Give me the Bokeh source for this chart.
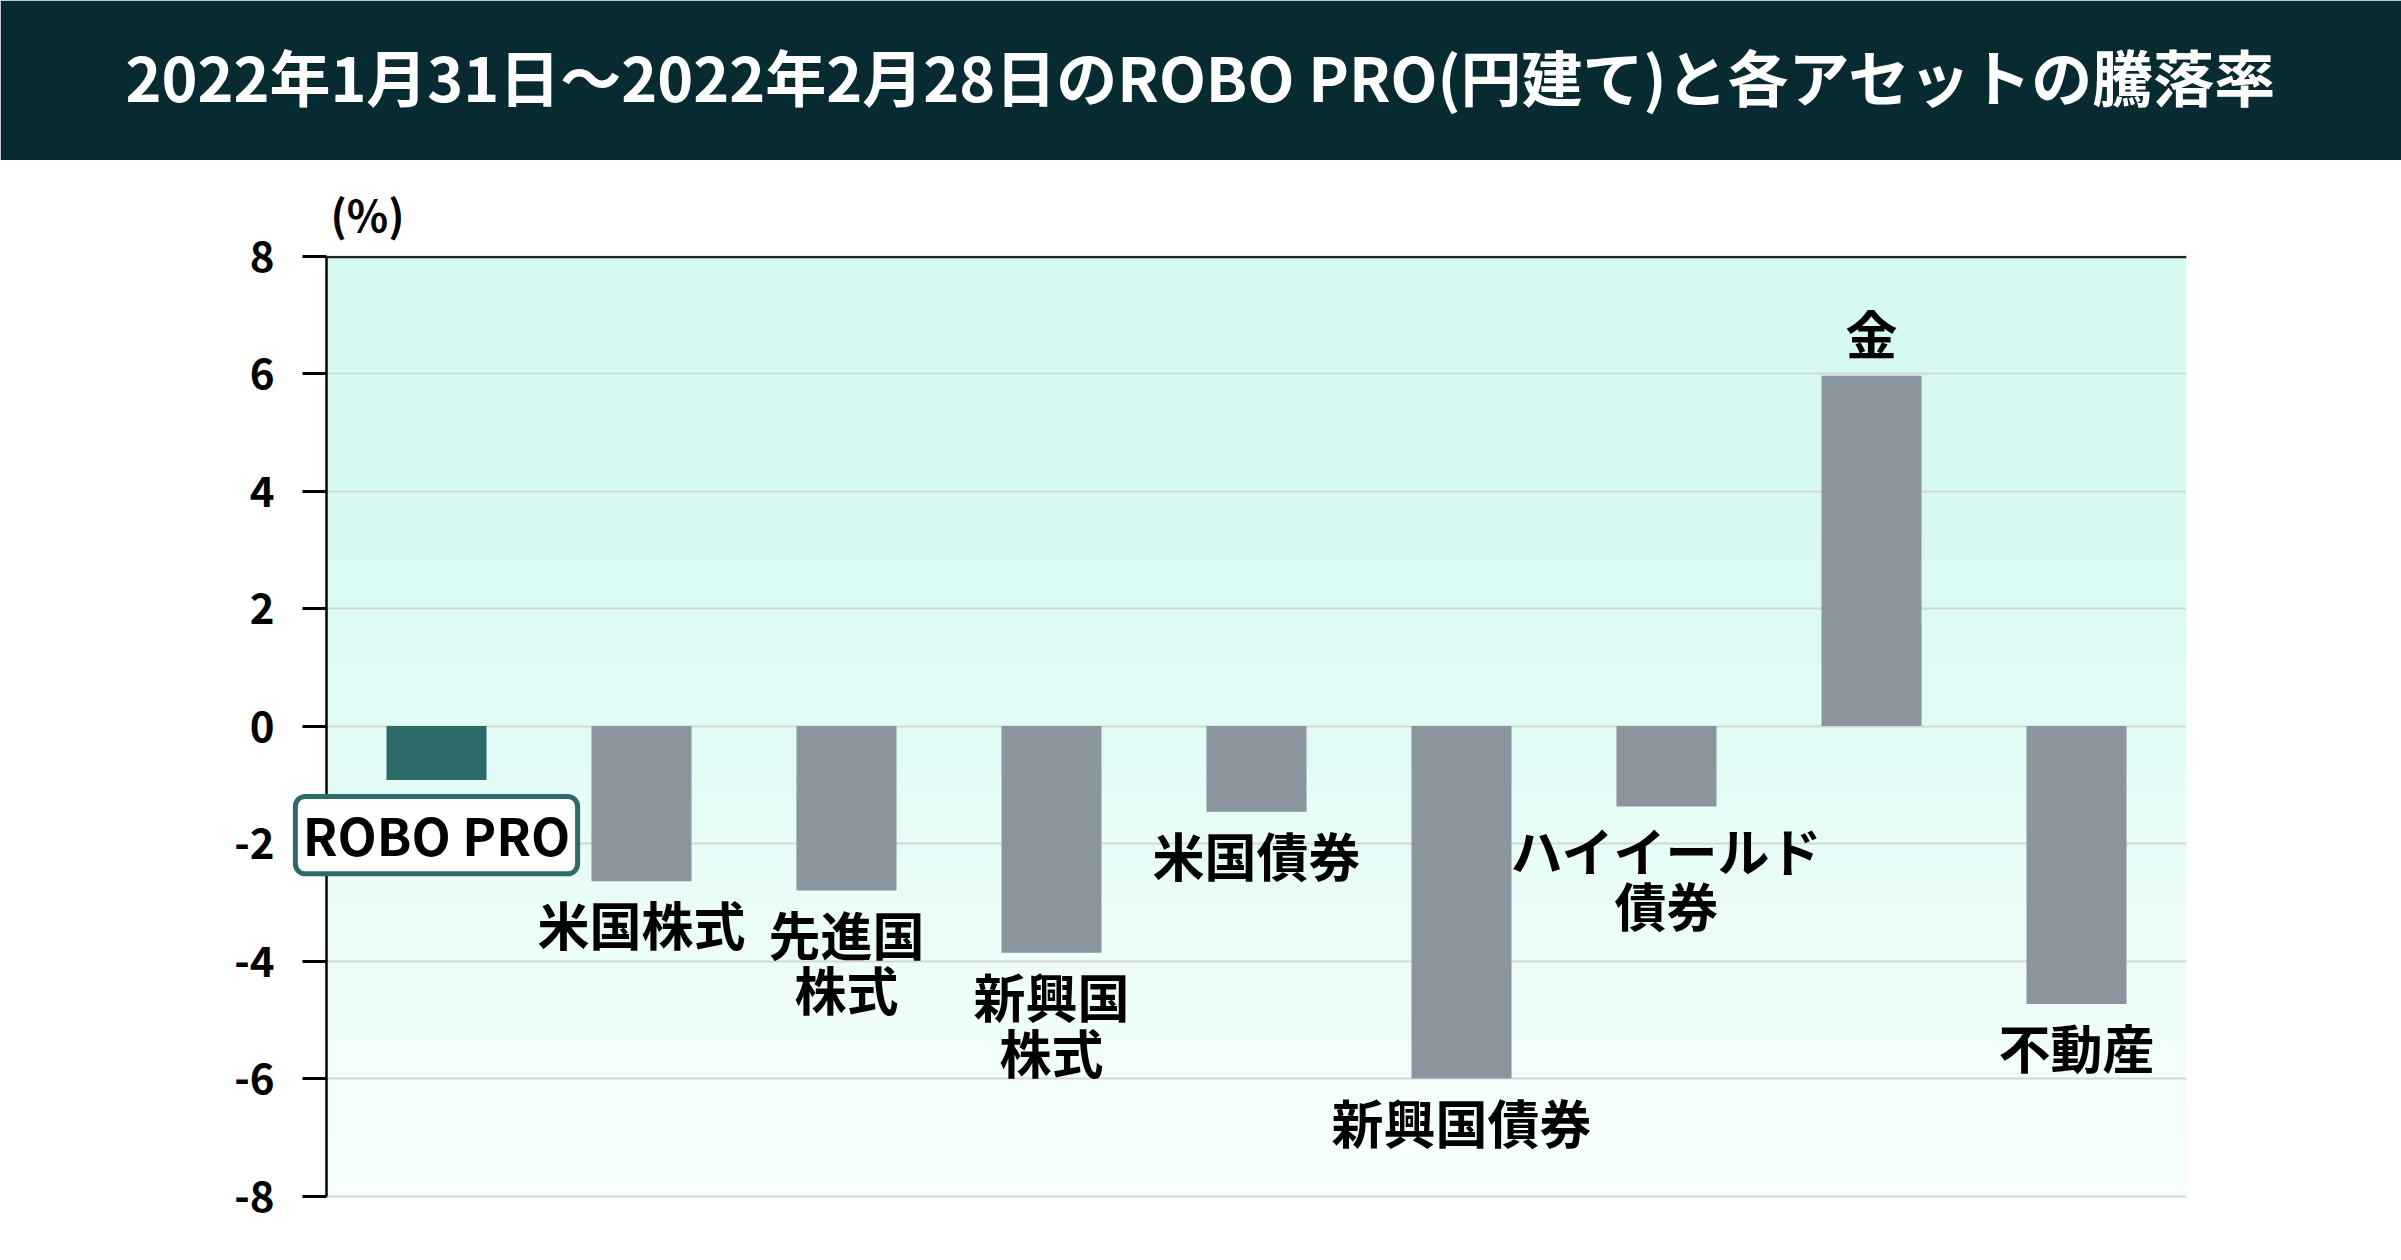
from bokeh.plotting import figure
from bokeh.models import Range1d, FixedTicker, ColumnDataSource, BoxAnnotation, Label
from bokeh.layouts import column
from bokeh.embed import file_html
from bokeh.resources import INLINE
from bokeh.core.properties import value

# ---------------- data ----------------
TITLE = "2022年1月31日～2022年2月28日のROBO PRO(円建て)と各アセットの騰落率"
categories = ["ROBO PRO", "米国株式", "先進国株式", "新興国株式", "米国債券",
              "新興国債券", "ハイイールド債券", "金", "不動産"]
labels = ["ROBO PRO", "米国株式", "先進国\n株式", "新興国\n株式", "米国債券",
          "新興国債券", "ハイイールド\n債券", "金", "不動産"]
returns = [-0.92, -2.64, -2.80, -3.86, -1.46, -6.00, -1.37, 5.96, -4.73]
y_ticks = [-8, -6, -4, -2, 0, 2, 4, 6, 8]
y_tick_labels = ["-8", "-6", "-4", "-2", "0", "2", "4", "6", "8"]
y_unit = "(%)"

# ---------------- style ----------------
FONT = "Noto Sans CJK JP"
HEADER = "#082b32"
TEAL = "#2f6a6a"
GRAY = "#8b959d"
W = 2401
HEAD_H = 160
MAIN_H = 1100
X_LO, X_AX, X_HI = -1.0780, -0.5366, 8.5366   # frame start, axis position, frame end
Y_LO, Y_HI = -8.5, 9.2                          # frame leaves room for the outer labels

# ---------------- header ----------------
t = figure(width=W, height=HEAD_H, x_range=Range1d(0, 1), y_range=Range1d(0, 1),
           output_backend="svg", toolbar_location=None,
           min_border_top=120, min_border_bottom=0,
           background_fill_color=HEADER, border_fill_color=HEADER,
           outline_line_color=HEADER, outline_line_width=4)
t.axis.visible = False
t.grid.visible = False
t.title.text = TITLE
t.title.align = "center"
t.title.vertical_align = "middle"
t.title.standoff = 0
t.title.text_color = "white"
t.title.text_font = FONT
t.title.text_font_style = "bold"
t.title.text_font_size = "61px"

# ---------------- main chart ----------------
p = figure(width=W, height=MAIN_H,
           x_range=Range1d(X_LO, X_HI), y_range=Range1d(Y_LO, Y_HI),
           output_backend="svg", toolbar_location=None,
           min_border_left=215, min_border_right=215, min_border_top=25, min_border_bottom=35,
           background_fill_color="white", border_fill_color="white", outline_line_color=None)

# background gradient bands (inside the axis box only)
c0 = (0xd6, 0xf9, 0xf1)
c1 = (0xf8, 0xff, 0xfe)
g_top, g_bot = 4.0, float(y_ticks[0])
p.add_layout(BoxAnnotation(left=X_AX, bottom=g_top, top=y_ticks[-1],
                           fill_color="#%02x%02x%02x" % c0, fill_alpha=1,
                           line_color=None, level="image"))
n = 60
step = (g_top - g_bot) / n
for i in range(n):
    f = (i + 0.5) / n
    col = tuple(round(c0[k] + (c1[k] - c0[k]) * f) for k in range(3))
    top = g_top - i * step + (0.02 if i > 0 else 0)
    bot = g_top - (i + 1) * step
    p.add_layout(BoxAnnotation(left=X_AX, top=top, bottom=bot,
                               fill_color="#%02x%02x%02x" % col, fill_alpha=1,
                               line_color=None, level="image"))

xs = list(range(len(categories)))
colors = [TEAL if i == 0 else GRAY for i in xs]
src = ColumnDataSource(dict(x=xs, cat=categories, val=returns, color=colors))
p.vbar(x="x", top="val", bottom=0, width=0.488, source=src,
       fill_color="color", line_color=None)

# axes / grid
p.xaxis.visible = False
p.xgrid.visible = False
p.ygrid.ticker = FixedTicker(ticks=y_ticks)
p.ygrid.grid_line_color = "#d5d7d7"
p.ygrid.grid_line_width = 2
p.ygrid.cross_bounds = (X_AX, X_HI)
yax = p.yaxis[0]
yax.fixed_location = X_AX
yax.bounds = (y_ticks[0], y_ticks[-1])
yax.ticker = FixedTicker(ticks=y_ticks)
yax.major_label_overrides = {tk: lb for tk, lb in zip(y_ticks, y_tick_labels)}
yax.major_label_text_font = FONT
yax.major_label_text_font_style = "bold"
yax.major_label_text_font_size = "42px"
yax.major_label_text_color = "black"
yax.major_label_standoff = 28
yax.axis_line_color = "black"
yax.axis_line_width = 2.5
yax.major_tick_line_color = "black"
yax.major_tick_line_width = 3
yax.major_tick_out = 24
yax.major_tick_in = 0
yax.minor_tick_line_color = None

# dark top border line of the plotting area
p.add_layout(BoxAnnotation(left=X_AX, top=y_ticks[-1], bottom=y_ticks[-1] - 0.04,
                           fill_color="#222222", fill_alpha=1, line_color=None, level="overlay"))

# unit label
p.add_layout(Label(x=X_AX, y=y_ticks[-1], text=y_unit, x_offset=4, y_offset=12,
                   text_align="left", text_baseline="bottom", text_font=FONT,
                   text_font_style="bold", text_font_size="43px", text_color="black"))

# labels
LBL = "52px"
LH = 0.745
neg = [i for i in xs[1:] if returns[i] < 0]
pos = [i for i in xs[1:] if returns[i] >= 0]
p.text(x=neg, y=[returns[i] for i in neg], text=[labels[i] for i in neg],
       text_align="center", text_baseline="top", text_font=value(FONT), text_font_style="bold",
       text_font_size=LBL, text_color="black", text_line_height=LH, y_offset=5)
p.text(x=pos, y=[returns[i] for i in pos], text=[labels[i] for i in pos],
       text_align="center", text_baseline="bottom", text_font=value(FONT), text_font_style="bold",
       text_font_size=LBL, text_color="black", text_line_height=LH, y_offset=-6)

# highlighted ROBO PRO label: rounded frame + text, drawn above the axis
p.text(x=[xs[0]], y=[returns[0]], text=[" "],
       text_align="center", text_baseline="middle", text_font=value(FONT),
       text_font_size="1px", text_color="white", y_offset=55,
       background_fill_color="white", border_line_color=TEAL, border_line_width=5,
       border_radius=10, padding=(141, 38), level="overlay")
p.text(x=[xs[0]], y=[returns[0]], text=[labels[0]],
       text_align="center", text_baseline="middle", text_font=value(FONT), text_font_style="bold",
       text_font_size="51px", text_color="black", y_offset=54, level="overlay")

layout = column(t, p)
open("out.html", "w").write(file_html(layout, INLINE))
